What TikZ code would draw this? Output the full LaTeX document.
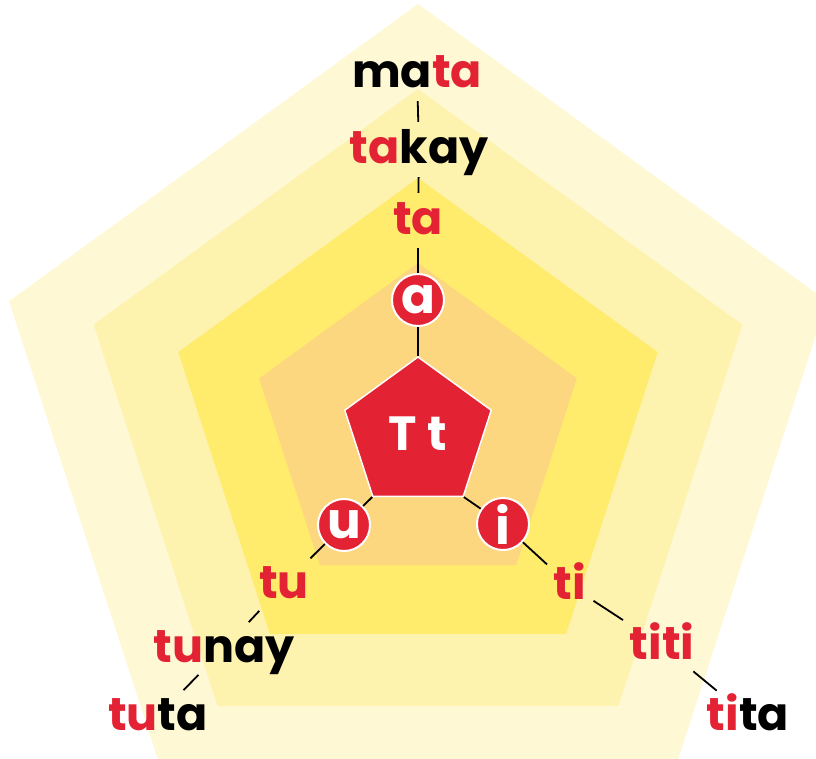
\documentclass[tikz,border=0pt]{standalone}
\usepackage{fontspec}
\setmainfont{Poppins}
\usepackage{tikz}
\usetikzlibrary{shapes.geometric}
\definecolor{tred}{RGB}{227,34,51}
\definecolor{layerA}{RGB}{254,248,212}
\definecolor{layerB}{RGB}{254,243,174}
\definecolor{layerC}{RGB}{255,235,108}
\definecolor{layerD}{RGB}{252,215,127}
\newcommand{\rd}[1]{\textcolor{tred}{#1}}

\begin{document}
\begin{tikzpicture}[x=1pt, y=-1pt,
    layer/.style={regular polygon, regular polygon sides=5, inner sep=0pt},
    core/.style={regular polygon, regular polygon sides=5, inner sep=0pt,
                 minimum size=154pt, fill=tred, draw=white, line width=1.5pt,
                 text=white, font=\fontsize{48}{50}\selectfont\bfseries},
    vowel/.style={circle, fill=tred, draw=white, line width=2pt,
                  minimum size=52pt, inner sep=0pt, text=white,
                  font=\fontsize{50}{50}\selectfont\bfseries},
    word/.style={font=\fontsize{46}{50}\selectfont\bfseries, anchor=base,
                 inner sep=3pt, text height=33pt, text depth=6pt},
    link/.style={line width=1.8pt},
    gap/.style={shorten <=5pt, shorten >=5pt}]

    \clip (0,0) rectangle (816,758);

    % nested pentagons
    \foreach \n/\r/\y/\c in {1/430/434/layerA, 2/341/430/layerB, 3/252/430/layerC, 4/167/430/layerD} {
        \node[layer, minimum size=\r*2pt, fill=\c] (layer\n) at (418,\y) {};
    }

    \node[core] (core) at (418,434) {T t};

    % branch a
    \node[vowel] (a) at (418,300) {a};
    \node[word, text=tred] (ta) at (418,234) {ta};
    \node[word] (takay) at (419,163) {\rd{ta}kay};
    \node[word] (mata) at (417,87) {ma\rd{ta}};

    % branch u
    \node[vowel] (u) at (344,525) {u};
    \node[word, text=tred] (tu) at (284,598) {tu};
    \node[word] (tunay) at (224,662) {\rd{tu}nay};
    \node[word] (tuta) at (158,730) {\rd{tu}ta};

    % branch i
    \node[vowel] (i) at (503,524) {i};
    \node[word, text=tred] (ti) at (570,599) {ti};
    \node[word, text=tred] (titi) at (662,659) {titi};
    \node[word] (tita) at (748,730) {\rd{ti}ta};

    \draw[link, gap] (mata) -- (takay);
    \draw[link, gap] (takay) -- (ta);
    \draw[link, shorten <=5pt] (ta) -- (a);
    \draw[link] (a) -- (core.corner 1);
    \draw[link] (core.corner 3) -- (u);
    \draw[link, shorten >=5pt] (u) -- (tu);
    \draw[link, gap] (tu) -- (tunay);
    \draw[link, gap] (tunay) -- (tuta);
    \draw[link] (core.corner 4) -- (i);
    \draw[link, shorten >=5pt] (i) -- (ti);
    \draw[link, gap] (ti) -- (titi);
    \draw[link, gap] (titi) -- (tita);
\end{tikzpicture}
\end{document}
